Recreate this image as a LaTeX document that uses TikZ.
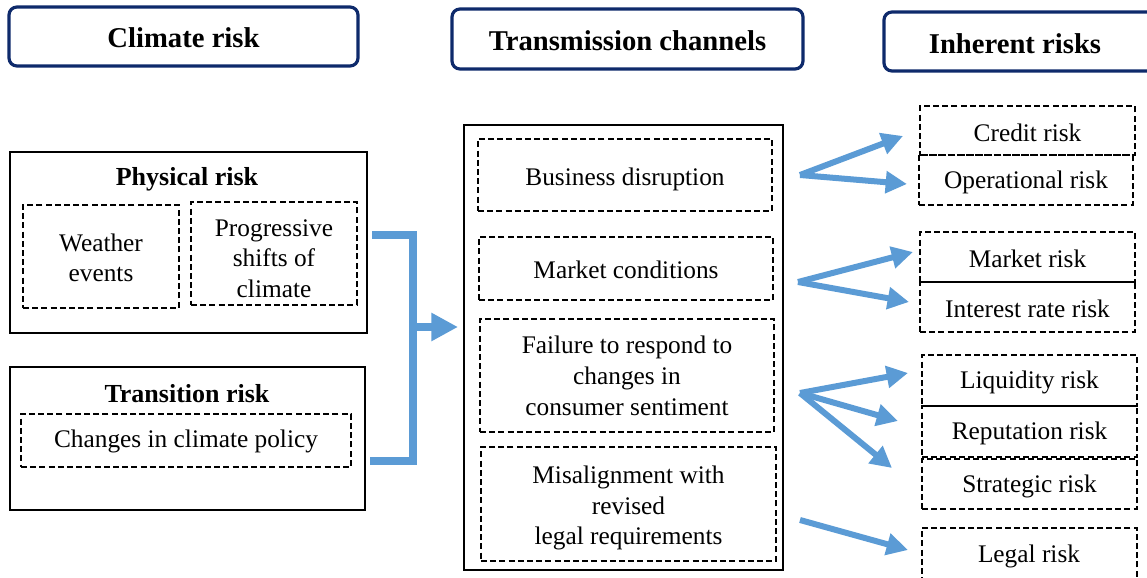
\documentclass[tikz,border=0pt]{standalone}
\usepackage{fontspec}
\setmainfont{Liberation Serif}
\usetikzlibrary{arrows.meta}
\definecolor{navy}{HTML}{0E2A6B}
\definecolor{arrblue}{HTML}{5B9BD5}
\newcommand\lowerby[2]{\raisebox{-#1}[\height][\depth]{#2}}
\newcommand\stk[1]{\begin{tabular}{@{}c@{}}#1\end{tabular}}
\tikzset{
  sz/.style 2 args={minimum width=#1*0.75pt, minimum height=#2*0.75pt},
  hdr/.style={draw=navy, line width=2.4pt, rounded corners=6pt, inner sep=0pt, font=\fontsize{21.5}{24}\selectfont\bfseries},
  solidbox/.style={draw=black, line width=1.1pt, inner sep=0pt},
  dbox/.style={draw=black, line width=1.9pt, dash pattern=on 4.5pt off 2.4pt, inner sep=0pt, align=center, font=\fontsize{19}{23}\selectfont},
  subttl/.style={inner sep=0pt, font=\fontsize{19.5}{23}\selectfont\bfseries},
  plain/.style={inner sep=0pt, font=\fontsize{19}{23}\selectfont},
  bigarrow/.style={draw=arrblue, line width=6pt, -{Triangle[length=20pt,width=20pt]}},
  thinarrow/.style={draw=arrblue, line width=4.5pt, -{Triangle[length=16pt,width=16pt]}},
  bracket/.style={draw=arrblue, line width=6pt}
}
\begin{document}
\begin{tikzpicture}[x=0.75pt,y=-0.75pt]
\useasboundingbox (0,0) rectangle (1147,578);
% headers
\node[hdr, sz={349}{59}] (hclim) at (183.5,36.5) {\lowerby{1pt}{Climate risk}};
\node[hdr, sz={351}{60}] (htrans) at (627.5,39) {\lowerby{1pt}{Transmission channels}};
\node[hdr, sz={276}{59}] (hinh) at (1022,41.5) {};
\node[subttl, font=\fontsize{21.5}{24}\selectfont\bfseries] (hinhtxt) at (1015,44) {Inherent risks};
% physical risk
\node[solidbox, sz={357}{181}] (phys) at (188.5,242.5) {};
\node[subttl] (physttl) at (187,179) {Physical risk};
\node[dbox, sz={156}{103}] (weather) at (101,256.5) {\lowerby{3pt}{\stk{Weather\\events}}};
\node[dbox, sz={166}{103}] (prog) at (274,253.5) {\lowerby{5.5pt}{\stk{Progressive\\shifts of\\climate}}};
% transition risk
\node[solidbox, sz={355}{143}] (trans) at (187.5,438.5) {};
\node[subttl] (transttl) at (187,394) {Transition risk};
\node[dbox, sz={330}{53}] (policy) at (186,440.5) {\lowerby{1pt}{Changes in climate policy}};
% middle
\node[solidbox, sz={319}{445}] (mid) at (623.5,347.5) {};
\node[dbox, sz={294}{72}] (bus) at (625,175) {\lowerby{3.5pt}{Business disruption}};
\node[dbox, sz={294}{63}] (mkt) at (626,268.5) {\lowerby{1pt}{Market conditions}};
\node[dbox, sz={294}{113}] (fail) at (627,375.5) {\lowerby{2.2pt}{\stk{Failure to respond to\\changes in\\consumer sentiment}}};
\node[dbox, sz={295}{114}] (mis) at (628.5,504) {\lowerby{3pt}{\stk{Misalignment with\\revised\\legal requirements}}};
% right
\node[dbox, sz={215}{49}] (credit) at (1027.5,130.5) {\lowerby{1.5pt}{Credit risk}};
\node[dbox, sz={214}{50}] (oper) at (1026,180) {\lowerby{2pt}{Operational risk}};
\node[dbox, sz={215}{50}] (market) at (1027.5,257) {\lowerby{1pt}{Market risk}};
\node[dbox, sz={215}{50}] (interest) at (1027.5,307) {\lowerby{1.5pt}{Interest rate risk}};
\node[dbox, sz={215}{51}] (liq) at (1029.5,380.5) {\lowerby{1.5pt}{Liquidity risk}};
\node[dbox, sz={215}{51}] (rep) at (1029.5,431.5) {\lowerby{1.5pt}{Reputation risk}};
\node[dbox, sz={215}{50}] (strat) at (1029.5,484) {\lowerby{1.5pt}{Strategic risk}};
\node[dbox, sz={215}{82}] (legal) at (1029.5,569) {};
\node[plain] (legaltxt) at (1029,556) {Legal risk};
% bracket
\coordinate (bt) at (372,235);
\coordinate (bb) at (370,461);
\coordinate (bm) at (413,327);
\coordinate (btip) at (458,327);
\draw[bracket] (bt) -- (413,235) -- (413,461) -- (bb);
\draw[bigarrow] (bm) -- (btip);
% arrows
\coordinate (s1) at (800,175);
\coordinate (t1a) at (903,136);
\coordinate (t1b) at (907,184);
\draw[thinarrow] (s1) -- (t1a);
\draw[thinarrow] (s1) -- (t1b);
\coordinate (s2) at (798,282);
\coordinate (t2a) at (913,252);
\coordinate (t2b) at (909,302);
\draw[thinarrow] (s2) -- (t2a);
\draw[thinarrow] (s2) -- (t2b);
\coordinate (s3) at (800,393);
\coordinate (t3a) at (908,373);
\coordinate (t3b) at (898,421);
\coordinate (t3c) at (892,468);
\draw[thinarrow] (s3) -- (t3a);
\draw[thinarrow] (s3) -- (t3b);
\draw[thinarrow] (s3) -- (t3c);
\coordinate (s4) at (800,520);
\coordinate (t4) at (908,550);
\draw[thinarrow] (s4) -- (t4);
\end{tikzpicture}
\end{document}
